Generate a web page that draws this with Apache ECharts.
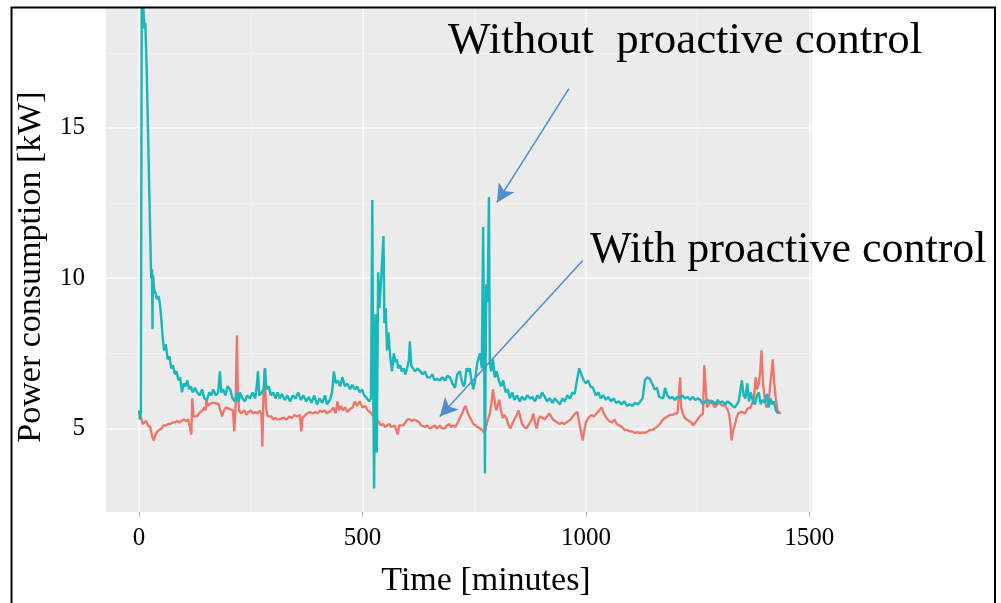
<!DOCTYPE html>
<html>
<head>
<meta charset="utf-8">
<script src="https://cdn.jsdelivr.net/npm/echarts@6.0.0/dist/echarts.min.js"></script>
<style>
  body { margin: 0; background: #fff; }
  #graph { width: 1001px; height: 603px; }
</style>
</head>
<body>
<div id="graph"></div>
<script>
// [time in minutes, power in kW]
var withoutControl = [
  [0,5.6],[2,5.3],[4,5.5],[6,19.4],[9,19.2],[12,18.3],[14,18.5],[17,17.0],[27,10.0],[29,10.3],
  [30,8.3],[31,10.1],[34,9.6],[37,9.5],[40,9.3],[44,9.4],[47,9.1],[50,8.6],[53,8.0],[56,7.6],
  [60,7.8],[64,7.3],[68,7.4],[72,7.0],[76,7.1],[80,6.8],[84,6.9],[88,6.6],[92,6.7],[96,6.2],
  [100,6.5],[104,6.4],[108,6.6],[112,6.3],[116,6.4],[120,6.2],[125,6.35],[130,6.2],[136,6.1],[141,6.3],
  [146,6.0],[152,5.95],[157,6.2],[162,6.1],[166,6.3],[172,6.1],[177,6.2],[181,6.9],[184,6.2],[188,6.3],
  [193,6.1],[198,6.4],[204,6.3],[209,6.0],[215,5.9],[219,6.2],[223,5.9],[226,6.2],[231,6.0],[237,5.9],
  [242,6.1],[248,6.0],[254,6.2],[260,6.0],[264,6.5],[266,6.9],[269,6.1],[275,6.2],[279,6.3],[282,7.0],
  [285,6.3],[290,6.4],[295,6.1],[300,6.2],[305,6.0],[310,6.2],[315,6.0],[320,6.15],[326,5.95],[332,6.1],
  [338,5.9],[344,6.1],[350,6.0],[356,6.2],[362,5.95],[368,6.1],[374,5.9],[380,6.05],[386,5.85],[392,6.1],
  [398,5.8],[404,6.0],[410,5.85],[416,6.1],[421,5.8],[427,5.95],[432,6.2],[436,6.9],[440,6.5],[445,6.6],
  [450,6.4],[455,6.7],[461,6.4],[466,6.5],[472,6.3],[477,6.45],[483,6.3],[488,6.4],[494,6.2],[499,6.3],
  [504,6.1],[510,6.0],[515,5.9],[519,6.0],[522,12.6],[524,6.5],[526,3.0],[529,8.8],[532,4.2],[535,10.2],
  [538,9.0],[541,9.8],[544,10.6],[547,11.4],[549,8.5],[552,9.0],[555,7.6],[558,8.2],[562,7.4],[566,6.9],
  [570,7.5],[574,7.2],[577,7.3],[580,7.0],[584,7.1],[588,6.9],[592,7.0],[596,6.8],[600,7.0],[604,7.3],
  [606,7.9],[609,7.1],[613,7.0],[618,6.9],[623,7.0],[629,6.9],[635,6.8],[640,6.9],[645,6.7],[651,6.7],
  [656,6.8],[662,6.6],[667,6.65],[673,6.6],[679,6.7],[685,6.6],[690,6.75],[696,6.7],[701,6.5],[707,6.35],
  [712,6.8],[718,6.9],[722,6.6],[726,6.4],[729,6.5],[733,7.0],[737,6.9],[740,7.0],[744,6.6],[748,6.3],
  [752,6.6],[757,7.2],[763,7.5],[767,7.0],[770,11.7],[772,8.0],[774,3.5],[777,9.8],[780,9.2],[783,12.7],
  [785,7.2],[788,6.9],[792,7.3],[796,6.7],[800,6.9],[805,6.6],[810,6.4],[815,6.6],[820,6.2],[825,6.3],
  [830,6.0],[835,6.2],[840,5.95],[846,6.1],[852,5.9],[857,6.05],[863,5.95],[869,6.1],[875,6.0],[880,6.05],
  [886,5.9],[891,6.1],[897,6.0],[902,6.2],[908,6.05],[913,5.9],[919,6.0],[925,5.85],[930,6.0],[936,5.9],
  [942,5.8],[947,6.0],[953,5.9],[958,6.1],[964,6.0],[970,6.2],[975,6.15],[980,6.6],[985,7.0],[990,6.8],
  [995,6.6],[1000,6.5],[1005,6.6],[1010,6.4],[1016,6.35],[1022,6.1],[1028,6.2],[1033,6.0],[1039,6.1],[1045,5.95],
  [1050,6.05],[1056,5.9],[1062,6.0],[1068,5.85],[1074,5.9],[1080,5.8],[1086,5.9],[1092,5.75],[1098,5.8],[1104,5.75],
  [1110,5.85],[1116,5.8],[1122,5.9],[1127,6.0],[1132,6.6],[1137,6.7],[1143,6.65],[1148,6.5],[1154,6.3],[1159,6.35],
  [1164,6.05],[1168,6.1],[1173,6.0],[1177,6.35],[1182,6.1],[1188,6.0],[1193,6.05],[1199,5.95],[1205,6.05],[1210,6.0],
  [1216,6.1],[1222,6.0],[1228,6.05],[1233,5.95],[1239,6.05],[1245,5.95],[1250,6.0],[1256,5.95],[1262,5.8],[1267,5.9],
  [1273,5.95],[1278,5.85],[1284,5.9],[1290,5.8],[1295,5.95],[1300,5.85],[1306,5.9],[1311,5.8],[1317,5.9],[1322,5.85],
  [1328,5.75],[1333,5.7],[1338,5.8],[1342,5.9],[1346,6.3],[1349,6.6],[1353,6.1],[1357,6.0],[1361,6.5],[1365,5.9],
  [1369,6.2],[1373,5.95],[1378,5.8],[1383,6.1],[1387,6.2],[1391,5.8],[1395,5.95],[1400,5.85],[1405,6.15],[1409,5.7],
  [1413,6.0],[1417,5.8],[1421,5.9],[1425,5.6],[1430,5.5]
]

var withControl = [
  [0,5.3],[4,5.4],[8,5.15],[12,5.2],[16,5.25],[20,5.1],[25,5.05],[29,4.75],[33,4.6],[37,4.8],
  [41,4.9],[45,4.95],[50,5.0],[55,5.1],[60,5.1],[65,5.15],[70,5.15],[75,5.2],[80,5.2],[85,5.25],
  [90,5.2],[95,5.25],[100,5.3],[105,5.25],[110,5.3],[114,5.3],[117,4.8],[119,6.0],[122,5.4],[126,5.35],
  [130,5.4],[134,5.5],[138,5.45],[142,5.6],[146,5.7],[149,5.6],[151,6.0],[154,5.75],[158,5.8],[162,5.85],
  [166,5.9],[170,5.85],[174,5.9],[178,5.8],[182,5.85],[186,5.4],[190,5.6],[194,5.7],[198,5.75],[202,5.65],
  [206,5.7],[210,5.6],[213,4.9],[216,5.7],[219,8.1],[221,6.3],[224,5.6],[228,5.5],[232,5.5],[236,5.6],
  [240,5.45],[245,5.55],[250,5.6],[255,5.5],[260,5.55],[265,5.5],[270,5.6],[274,5.45],[276,4.4],[278,5.9],
  [281,7.0],[284,5.7],[288,5.4],[292,5.35],[296,5.4],[300,5.3],[305,5.35],[310,5.3],[315,5.3],[320,5.35],
  [325,5.35],[330,5.3],[336,5.4],[342,5.35],[348,5.45],[354,5.4],[360,5.45],[363,4.9],[366,5.35],[370,5.4],
  [376,5.5],[382,5.55],[388,5.5],[394,5.55],[400,5.5],[405,5.6],[410,5.55],[416,5.6],[420,5.5],[425,5.55],
  [430,5.6],[435,5.7],[440,5.5],[444,5.9],[448,5.6],[452,5.75],[456,5.6],[461,5.7],[466,5.55],[472,5.65],
  [478,5.7],[483,5.9],[488,5.75],[494,5.9],[500,5.7],[506,5.75],[512,5.6],[517,5.55],[522,5.45],[527,5.35],
  [532,5.3],[537,5.2],[541,5.1],[546,5.15],[550,5.05],[555,5.1],[560,5.15],[564,5.05],[568,5.1],[572,5.1],
  [576,5.05],[579,4.8],[582,5.1],[586,5.15],[591,5.1],[596,5.2],[601,5.3],[606,5.3],[611,5.25],[616,5.3],
  [622,5.25],[627,5.2],[631,5.1],[635,5.15],[640,5.05],[645,5.1],[651,5.0],[656,5.05],[662,5.1],[667,5.0],
  [673,5.1],[678,5.0],[684,5.0],[689,5.1],[694,5.15],[698,5.05],[703,5.1],[708,5.05],[713,5.2],[718,5.35],
  [723,5.5],[727,5.65],[731,5.75],[735,5.55],[739,5.4],[743,5.3],[748,5.15],[753,5.1],[758,5.05],[763,5.0],
  [768,4.95],[773,4.85],[777,5.1],[781,5.3],[785,5.5],[789,5.9],[792,6.3],[796,5.9],[799,5.6],[803,5.8],
  [806,5.95],[810,5.6],[814,5.35],[818,5.45],[823,5.3],[827,5.1],[831,5.0],[835,5.15],[840,5.3],[845,5.45],
  [849,5.6],[853,5.4],[857,5.15],[862,5.05],[867,5.0],[871,5.1],[875,5.05],[879,5.3],[882,5.5],[886,5.2],
  [890,5.0],[894,5.3],[898,5.4],[903,5.35],[908,5.3],[913,5.4],[918,5.5],[922,5.4],[926,5.3],[931,5.25],
  [936,5.2],[941,5.15],[946,5.2],[951,5.15],[956,5.2],[960,5.25],[966,5.3],[971,5.4],[976,5.5],[981,5.55],
  [985,5.2],[989,4.9],[993,4.6],[996,4.9],[1000,5.2],[1006,5.35],[1012,5.45],[1018,5.4],[1024,5.5],[1030,5.6],
  [1035,5.7],[1040,5.5],[1046,5.35],[1052,5.25],[1058,5.2],[1064,5.3],[1069,5.15],[1075,5.1],[1081,5.05],[1087,4.95],
  [1093,4.95],[1098,4.9],[1104,4.9],[1110,4.85],[1116,4.88],[1121,4.85],[1127,4.87],[1132,4.85],[1138,4.9],[1143,4.95],
  [1149,4.95],[1154,5.0],[1160,5.07],[1166,5.15],[1171,5.27],[1177,5.35],[1182,5.4],[1188,5.45],[1193,5.45],[1199,5.5],
  [1205,5.5],[1209,5.55],[1211,6.7],[1213,5.7],[1217,5.5],[1221,5.35],[1226,5.3],[1231,5.25],[1236,5.2],[1240,5.1],
  [1245,5.2],[1250,5.3],[1255,5.4],[1259,5.45],[1262,5.5],[1265,7.1],[1268,6.4],[1271,5.7],[1275,5.8],[1280,5.95],
  [1284,5.8],[1289,5.7],[1294,5.8],[1300,5.85],[1305,5.75],[1311,5.8],[1316,5.65],[1320,5.5],[1323,5.2],[1326,4.6],
  [1329,4.9],[1333,5.1],[1337,5.35],[1341,5.5],[1345,5.45],[1349,5.55],[1353,5.6],[1357,5.5],[1361,5.65],[1365,5.6],
  [1369,5.7],[1372,5.75],[1376,6.0],[1380,6.7],[1383,6.3],[1387,6.5],[1390,6.9],[1393,7.6],[1396,6.6],[1400,6.0],
  [1404,5.7],[1408,5.8],[1411,6.2],[1415,6.8],[1418,7.3],[1421,6.6],[1425,6.0],[1429,5.6],[1433,5.5],[1436,5.55]
]

var xTicks = [0, 500, 1000, 1500]
var xMinor = [250, 750, 1250]
var yTicks = [5, 10, 15]
var yMinor = [7.5, 12.5, 17.5]

// annotation arrows in data units: [from, to]
var arrowWithout = [[962, 16.31], [801, 12.52]]
var arrowWith = [[993, 10.59], [673, 5.40]]

var serif = '"Liberation Serif", "Times New Roman", serif'

function gridLines() {
    var major = { color: '#fbfbfb', width: 1.6, type: 'solid' }
    var minor = { color: '#f2f2f2', width: 1, type: 'solid' }
    var out = []
    xTicks.forEach(function (v) { out.push({ xAxis: v, lineStyle: major }) })
    xMinor.forEach(function (v) { out.push({ xAxis: v, lineStyle: minor }) })
    yTicks.forEach(function (v) { out.push({ yAxis: v, lineStyle: major }) })
    yMinor.forEach(function (v) { out.push({ yAxis: v, lineStyle: minor }) })
    return out
}

function arrowLine(a) {
    return [{ coord: a[0] }, { coord: a[1] }]
}

function plainNumber(v) {
    return String(v)
}

var chart = echarts.init(document.getElementById('graph'))
var option = {
    animation: false,
    backgroundColor: '#ffffff',
    grid: {
        left: 106, right: 189, top: 8, bottom: 91,
        show: true, backgroundColor: '#ebebeb', borderWidth: 0
    },
    xAxis: {
        type: 'value',
        min: -74, max: 1506,
        name: 'Time [minutes]',
        nameLocation: 'middle',
        nameGap: 52,
        nameTextStyle: { fontFamily: serif, fontSize: 34, color: '#000', padding: [0, 0, 0, 54] },
        axisLine: { show: false },
        splitLine: { show: false },
        axisTick: { customValues: xTicks, length: 5, lineStyle: { color: '#b0b0b0', width: 1 } },
        axisLabel: { customValues: xTicks, formatter: plainNumber, margin: 14, fontFamily: serif, fontSize: 25, color: '#000' }
    },
    yAxis: {
        type: 'value',
        min: 2.22, max: 18.99,
        name: 'Power consumption [kW]',
        nameLocation: 'middle',
        nameGap: 58,
        nameTextStyle: { fontFamily: serif, fontSize: 34, color: '#000', padding: [0, 14, 0, 0] },
        axisLine: { show: false },
        splitLine: { show: false },
        axisTick: { customValues: yTicks, length: 4, lineStyle: { color: '#b0b0b0', width: 1 } },
        axisLabel: { customValues: yTicks, formatter: plainNumber, margin: 21, fontFamily: serif, fontSize: 25, color: '#000' }
    },
    series: [
        {
            name: 'With proactive control',
            type: 'line',
            data: withControl,
            showSymbol: false,
            symbol: 'none',
            lineStyle: { color: '#f0746a', width: 2.3 },
            markLine: {
                silent: true, z: 1, symbol: 'none', animation: false,
                label: { show: false },
                data: gridLines()
            }
        },
        {
            name: 'Without proactive control',
            type: 'line',
            data: withoutControl,
            showSymbol: false,
            symbol: 'none',
            lineStyle: { color: '#17b8bb', width: 2.4 },
            markLine: {
                silent: true, animation: false,
                symbol: ['none', 'arrow'],
                symbolSize: [14, 18],
                label: { show: false },
                lineStyle: { color: '#4f8cd0', width: 1.5, type: 'solid' },
                data: [arrowLine(arrowWithout), arrowLine(arrowWith)]
            }
        }
    ],
    graphic: [
        {
            type: 'text', left: 448, top: 19, z: 100,
            style: { text: 'Without  proactive control', font: '45px ' + serif, fill: '#000' }
        },
        {
            type: 'text', left: 590, top: 228, z: 100,
            style: { text: 'With proactive control', font: '44px ' + serif, fill: '#000' }
        },
        {
            type: 'rect', z: 100,
            shape: { x: 11.5, y: 7.5, width: 983.5, height: 640 },
            style: { fill: 'none', stroke: '#000', lineWidth: 2 }
        }
    ]
}
chart.setOption(option)
</script>
</body>
</html>
